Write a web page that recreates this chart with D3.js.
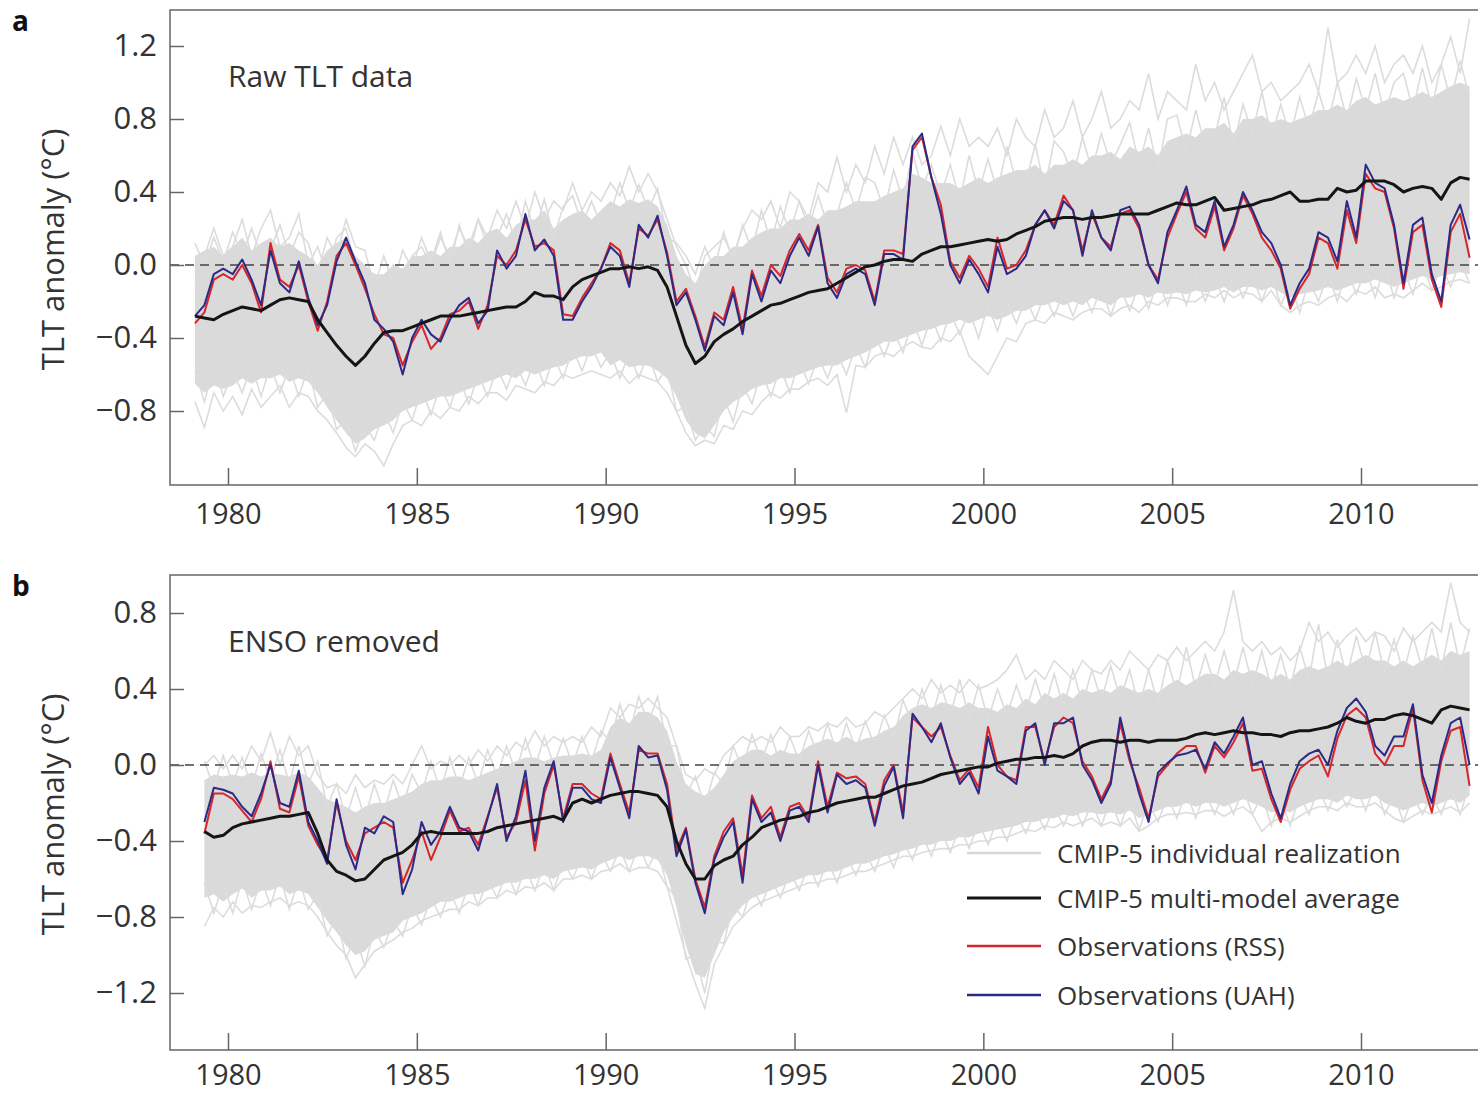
<!DOCTYPE html>
<html>
<head>
<meta charset="utf-8">
<script src="https://cdn.jsdelivr.net/npm/d3@7"></script>
<style>
  body { margin: 0; background: #fff; }
  svg { display: block; font-family: "Open Sans", sans-serif; }
</style>
</head>
<body>
<svg id="chart" width="1478" height="1094"></svg>
<script>
// Quarterly values, one row per year (Q1..Q4), 1979-2012
const years = d3.range(1979, 2013);
const xTicks = [1980, 1985, 1990, 1995, 2000, 2005, 2010];
const yTicksA = [-0.8, -0.4, 0, 0.4, 0.8, 1.2];
const yTicksB = [-1.2, -0.8, -0.4, 0, 0.4, 0.8];
const legendLabels = ['CMIP-5 individual realization', 'CMIP-5 multi-model average', 'Observations (RSS)', 'Observations (UAH)'];

// ---- panel a: raw TLT data ----
const rawUAH = [
  -0.28, -0.22, -0.05, -0.02,
  -0.05, 0.03, -0.08, -0.22,
  0.08, -0.10, -0.15, 0.02,
  -0.18, -0.33, -0.22, 0.02,
  0.15, 0.02, -0.10, -0.30,
  -0.35, -0.42, -0.60, -0.40,
  -0.30, -0.38, -0.42, -0.30,
  -0.22, -0.18, -0.32, -0.25,
  0.08, -0.02, 0.05, 0.28,
  0.08, 0.14, 0.05, -0.30,
  -0.30, -0.20, -0.12, -0.02,
  0.10, 0.05, -0.12, 0.22,
  0.15, 0.27, 0.05, -0.22,
  -0.15, -0.30, -0.47, -0.28,
  -0.33, -0.15, -0.38, -0.05,
  -0.20, -0.03, -0.10, 0.05,
  0.15, 0.05, 0.21, -0.10,
  -0.18, -0.05, -0.02, -0.05,
  -0.22, 0.06, 0.06, 0.03,
  0.65, 0.72, 0.48, 0.28,
  0.00, -0.10, 0.03, -0.05,
  -0.15, 0.10, -0.05, -0.02,
  0.05, 0.22, 0.30, 0.20,
  0.35, 0.30, 0.05, 0.30,
  0.15, 0.08, 0.30, 0.32,
  0.22, 0.00, -0.10, 0.18,
  0.30, 0.43, 0.22, 0.18,
  0.35, 0.10, 0.22, 0.40,
  0.30, 0.18, 0.12, 0.00,
  -0.22, -0.10, -0.02, 0.18,
  0.15, 0.02, 0.35, 0.15,
  0.55, 0.45, 0.42, 0.22,
  -0.10, 0.22, 0.26, -0.05,
  -0.20, 0.22, 0.33, 0.14
];
const rawRSS = [
  -0.32, -0.26, -0.08, -0.05,
  -0.08, 0.00, -0.10, -0.26,
  0.12, -0.08, -0.12, 0.00,
  -0.20, -0.36, -0.20, 0.05,
  0.12, 0.00, -0.13, -0.27,
  -0.38, -0.40, -0.55, -0.42,
  -0.33, -0.46, -0.40, -0.27,
  -0.25, -0.20, -0.35, -0.22,
  0.05, 0.00, 0.08, 0.25,
  0.10, 0.12, 0.08, -0.27,
  -0.28, -0.18, -0.10, -0.02,
  0.12, 0.08, -0.10, 0.20,
  0.16, 0.25, 0.07, -0.20,
  -0.13, -0.28, -0.45, -0.26,
  -0.30, -0.12, -0.35, -0.03,
  -0.17, 0.00, -0.06, 0.08,
  0.17, 0.08, 0.22, -0.07,
  -0.15, -0.02, 0.00, -0.03,
  -0.20, 0.08, 0.08, 0.06,
  0.63, 0.70, 0.48, 0.33,
  0.02, -0.07, 0.05, -0.02,
  -0.12, 0.15, -0.02, 0.00,
  0.08, 0.22, 0.30, 0.22,
  0.38, 0.30, 0.08, 0.28,
  0.15, 0.10, 0.28, 0.30,
  0.20, 0.00, -0.08, 0.15,
  0.28, 0.40, 0.20, 0.15,
  0.32, 0.08, 0.20, 0.38,
  0.28, 0.15, 0.08, -0.02,
  -0.24, -0.13, -0.05, 0.15,
  0.12, -0.02, 0.30, 0.12,
  0.50, 0.42, 0.40, 0.20,
  -0.13, 0.18, 0.22, -0.08,
  -0.23, 0.18, 0.28, 0.04
];
const rawAvg = [
  -0.28, -0.29, -0.30, -0.27,
  -0.25, -0.23, -0.24, -0.25,
  -0.22, -0.19, -0.18, -0.19,
  -0.20, -0.30, -0.37, -0.44,
  -0.50, -0.55, -0.50, -0.43,
  -0.37, -0.36, -0.36, -0.34,
  -0.32, -0.30, -0.28, -0.28,
  -0.28, -0.27, -0.26, -0.25,
  -0.24, -0.23, -0.23, -0.20,
  -0.15, -0.17, -0.17, -0.19,
  -0.12, -0.08, -0.06, -0.04,
  -0.02, -0.02, -0.01, -0.02,
  -0.01, -0.03, -0.12, -0.28,
  -0.44, -0.54, -0.50, -0.42,
  -0.38, -0.35, -0.31, -0.28,
  -0.25, -0.22, -0.21, -0.19,
  -0.17, -0.15, -0.14, -0.13,
  -0.10, -0.07, -0.04, -0.01,
  0.00, 0.02, 0.03, 0.03,
  0.02, 0.06, 0.08, 0.10,
  0.10, 0.11, 0.12, 0.13,
  0.14, 0.13, 0.14, 0.17,
  0.19, 0.21, 0.24, 0.25,
  0.26, 0.26, 0.25, 0.26,
  0.26, 0.27, 0.28, 0.28,
  0.28, 0.28, 0.30, 0.32,
  0.34, 0.33, 0.33, 0.35,
  0.37, 0.30, 0.31, 0.32,
  0.33, 0.35, 0.36, 0.38,
  0.40, 0.35, 0.35, 0.36,
  0.36, 0.42, 0.40, 0.41,
  0.46, 0.46, 0.46, 0.44,
  0.40, 0.42, 0.43, 0.42,
  0.36, 0.45, 0.48, 0.47
];
// dense part of the model spread
const rawBandHi = [
  0.05, 0.08, 0.10, 0.05,
  0.10, 0.15, 0.08, 0.12,
  0.15, 0.10, 0.12, 0.08,
  0.05, 0.00, 0.08, 0.12,
  0.15, 0.05, 0.00, -0.05,
  -0.05, 0.00, -0.02, 0.05,
  0.05, 0.08, 0.05, 0.10,
  0.10, 0.15, 0.12, 0.18,
  0.20, 0.15, 0.22, 0.25,
  0.25, 0.30, 0.20, 0.25,
  0.28, 0.30, 0.25, 0.30,
  0.35, 0.32, 0.36, 0.34,
  0.36, 0.32, 0.22, 0.05,
  -0.05, -0.10, 0.00, 0.05,
  0.05, 0.10, 0.10, 0.15,
  0.18, 0.20, 0.20, 0.25,
  0.25, 0.28, 0.25, 0.30,
  0.30, 0.32, 0.35, 0.35,
  0.35, 0.38, 0.40, 0.42,
  0.50, 0.48, 0.45, 0.45,
  0.45, 0.42, 0.45, 0.48,
  0.45, 0.48, 0.50, 0.52,
  0.52, 0.55, 0.50, 0.55,
  0.55, 0.58, 0.55, 0.60,
  0.60, 0.62, 0.58, 0.65,
  0.62, 0.65, 0.60, 0.68,
  0.70, 0.72, 0.70, 0.75,
  0.75, 0.78, 0.72, 0.80,
  0.80, 0.82, 0.78, 0.80,
  0.78, 0.80, 0.82, 0.85,
  0.85, 0.88, 0.85, 0.90,
  0.92, 0.88, 0.90, 0.92,
  0.90, 0.92, 0.95, 0.92,
  0.95, 0.98, 1.00, 0.98
];
const rawBandLo = [
  -0.65, -0.70, -0.66, -0.68,
  -0.66, -0.62, -0.65, -0.62,
  -0.62, -0.60, -0.64, -0.62,
  -0.64, -0.70, -0.78, -0.85,
  -0.92, -0.98, -0.95, -0.90,
  -0.88, -0.85, -0.80, -0.78,
  -0.76, -0.74, -0.72, -0.72,
  -0.70, -0.68, -0.66, -0.64,
  -0.62, -0.60, -0.62, -0.58,
  -0.60, -0.58, -0.56, -0.55,
  -0.52, -0.50, -0.50, -0.48,
  -0.55, -0.52, -0.56, -0.55,
  -0.55, -0.58, -0.62, -0.72,
  -0.85, -0.92, -0.95, -0.88,
  -0.80, -0.75, -0.72, -0.68,
  -0.66, -0.65, -0.62, -0.62,
  -0.60, -0.58, -0.56, -0.55,
  -0.55, -0.52, -0.50, -0.48,
  -0.45, -0.42, -0.42, -0.40,
  -0.38, -0.36, -0.35, -0.33,
  -0.32, -0.30, -0.32, -0.30,
  -0.28, -0.30, -0.28, -0.25,
  -0.25, -0.22, -0.22, -0.20,
  -0.22, -0.20, -0.22, -0.18,
  -0.20, -0.22, -0.18, -0.18,
  -0.16, -0.18, -0.15, -0.16,
  -0.15, -0.16, -0.14, -0.15,
  -0.14, -0.12, -0.15, -0.12,
  -0.12, -0.14, -0.12, -0.15,
  -0.18, -0.16, -0.15, -0.14,
  -0.12, -0.14, -0.12, -0.10,
  -0.10, -0.08, -0.10, -0.12,
  -0.10, -0.08, -0.06, -0.08,
  -0.06, -0.05, -0.04, -0.05
];
// individual realizations that stick out of the dense spread
const rawRunHigh = [
  -0.10, 0.05, 0.20, 0.05,
  0.10, 0.25, 0.05, 0.20,
  0.30, 0.10, 0.15, 0.28,
  0.00, 0.10, -0.05, 0.15,
  0.20, 0.00, -0.10, -0.05,
  -0.15, 0.00, -0.10, 0.05,
  0.10, 0.00, 0.15, 0.05,
  0.20, 0.10, 0.25, 0.15,
  0.30, 0.20, 0.35, 0.20,
  0.40, 0.25, 0.35, 0.30,
  0.45, 0.30, 0.40, 0.35,
  0.45, 0.38, 0.54, 0.40,
  0.50, 0.40, 0.25, 0.10,
  0.00, -0.15, 0.05, 0.10,
  0.15, 0.05, 0.20, 0.30,
  0.25, 0.35, 0.20, 0.40,
  0.35, 0.25, 0.45, 0.40,
  0.59, 0.40, 0.55, 0.45,
  0.65, 0.50, 0.70, 0.55,
  0.70, 0.55, 0.60, 0.76,
  0.60, 0.80, 0.65, 0.70,
  0.65, 0.75, 0.60, 0.80,
  0.70, 0.65, 0.85, 0.70,
  0.75, 0.90, 0.70, 0.80,
  0.95, 0.75, 0.80, 0.90,
  0.85, 1.05, 0.80, 0.95,
  0.90, 0.85, 1.10, 0.90,
  1.00, 0.85, 0.95, 1.05,
  1.15, 0.95, 1.00, 0.90,
  0.95, 1.00, 1.10, 0.95,
  1.30, 1.00, 1.05, 1.15,
  1.05, 1.20, 1.00, 1.10,
  1.15, 1.05, 1.20, 1.00,
  1.10, 1.25, 1.05, 1.35
];
const rawRunMidHi = [
  0.12, 0.00, 0.15, 0.02,
  0.18, 0.05, 0.20, 0.05,
  0.08, 0.22, 0.05, 0.18,
  0.12, -0.05, 0.15, 0.05,
  0.25, 0.10, 0.08, -0.12,
  0.05, -0.10, 0.08, -0.02,
  0.15, 0.02, 0.18, 0.00,
  0.22, 0.05, 0.25, 0.10,
  0.15, 0.28, 0.12, 0.35,
  0.18, 0.36, 0.15, 0.32,
  0.38, 0.22, 0.35, 0.22,
  0.28, 0.45, 0.30, 0.44,
  0.30, 0.42, 0.15, 0.12,
  0.05, -0.05, 0.10, -0.02,
  0.18, 0.02, 0.22, 0.08,
  0.30, 0.12, 0.32, 0.18,
  0.35, 0.20, 0.38, 0.22,
  0.28, 0.45, 0.30, 0.48,
  0.45, 0.30, 0.52, 0.35,
  0.62, 0.42, 0.55, 0.38,
  0.55, 0.35, 0.60, 0.40,
  0.58, 0.40, 0.65, 0.45,
  0.45, 0.66, 0.42, 0.68,
  0.62, 0.48, 0.70, 0.52,
  0.72, 0.55, 0.66, 0.78,
  0.55, 0.75, 0.52, 0.80,
  0.82, 0.62, 0.85, 0.65,
  0.70, 0.92, 0.65, 0.88,
  0.72, 0.95, 0.70, 0.88,
  0.70, 0.92, 0.75, 0.95,
  0.78, 1.00, 0.80, 1.02,
  0.85, 1.05, 0.82, 1.00,
  1.05, 0.85, 1.08, 0.86,
  1.10, 0.90, 1.12, 0.92
];
const rawRunMidLo = [
  -0.58, -0.75, -0.55, -0.72,
  -0.58, -0.70, -0.55, -0.72,
  -0.55, -0.70, -0.56, -0.72,
  -0.56, -0.78, -0.70, -0.90,
  -0.85, -1.02, -0.88, -0.96,
  -0.80, -0.92, -0.75, -0.85,
  -0.68, -0.82, -0.66, -0.78,
  -0.62, -0.76, -0.60, -0.72,
  -0.56, -0.68, -0.54, -0.66,
  -0.52, -0.66, -0.50, -0.62,
  -0.46, -0.58, -0.44, -0.56,
  -0.48, -0.62, -0.48, -0.62,
  -0.48, -0.64, -0.56, -0.80,
  -0.78, -0.96, -0.88, -0.94,
  -0.72, -0.86, -0.66, -0.76,
  -0.58, -0.72, -0.56, -0.70,
  -0.52, -0.65, -0.50, -0.62,
  -0.48, -0.60, -0.44, -0.56,
  -0.38, -0.50, -0.36, -0.48,
  -0.30, -0.44, -0.28, -0.42,
  -0.26, -0.38, -0.25, -0.40,
  -0.22, -0.36, -0.20, -0.32,
  -0.18, -0.30, -0.16, -0.28,
  -0.15, -0.28, -0.14, -0.26,
  -0.12, -0.28, -0.12, -0.25,
  -0.10, -0.24, -0.08, -0.22,
  -0.08, -0.22, -0.06, -0.20,
  -0.06, -0.20, -0.05, -0.18,
  -0.06, -0.20, -0.05, -0.22,
  -0.10, -0.26, -0.08, -0.20,
  -0.04, -0.20, -0.02, -0.16,
  -0.02, -0.18, 0.00, -0.18,
  -0.02, -0.16, 0.02, -0.14,
  0.00, -0.12, 0.02, -0.10
];
const rawRunLow = [
  -0.75, -0.89, -0.70, -0.80,
  -0.72, -0.82, -0.68, -0.78,
  -0.72, -0.66, -0.78, -0.70,
  -0.72, -0.80, -0.85, -0.92,
  -1.00, -1.05, -0.98, -1.02,
  -1.10, -0.98, -0.88, -0.85,
  -0.88, -0.80, -0.84, -0.78,
  -0.80, -0.72, -0.76, -0.70,
  -0.70, -0.74, -0.66, -0.68,
  -0.70, -0.64, -0.66, -0.60,
  -0.62, -0.60, -0.58, -0.60,
  -0.62, -0.58, -0.65, -0.60,
  -0.62, -0.64, -0.70, -0.80,
  -0.92, -0.99, -0.96, -0.98,
  -0.88, -0.90, -0.80, -0.82,
  -0.75, -0.70, -0.73, -0.68,
  -0.68, -0.64, -0.62, -0.66,
  -0.60, -0.81, -0.55, -0.56,
  -0.50, -0.48, -0.50, -0.45,
  -0.42, -0.45, -0.46, -0.40,
  -0.42, -0.36, -0.50, -0.55,
  -0.60, -0.50, -0.40, -0.42,
  -0.32, -0.30, -0.32, -0.26,
  -0.28, -0.30, -0.26, -0.24,
  -0.24, -0.28, -0.24, -0.22,
  -0.26, -0.20, -0.22, -0.18,
  -0.18, -0.20, -0.20, -0.16,
  -0.18, -0.14, -0.18, -0.15,
  -0.16, -0.20, -0.14, -0.22,
  -0.26, -0.22, -0.20, -0.22,
  -0.18, -0.16, -0.20, -0.14,
  -0.16, -0.12, -0.18, -0.16,
  -0.18, -0.14, -0.10, -0.14,
  -0.12, -0.09, -0.08, -0.10
];

// ---- panel b: ENSO removed ----
const noEnsoUAH = [
  null, -0.30, -0.12, -0.13,
  -0.15, -0.22, -0.27, -0.15,
  0.00, -0.20, -0.22, -0.03,
  -0.30, -0.40, -0.52, -0.18,
  -0.42, -0.55, -0.33, -0.36,
  -0.27, -0.30, -0.68, -0.55,
  -0.30, -0.42, -0.35, -0.22,
  -0.33, -0.35, -0.45, -0.28,
  -0.10, -0.40, -0.27, -0.03,
  -0.40, -0.12, 0.02, -0.30,
  -0.12, -0.12, -0.18, -0.20,
  0.04, -0.12, -0.28, 0.10,
  0.04, 0.05, -0.13, -0.48,
  -0.34, -0.62, -0.78, -0.50,
  -0.38, -0.30, -0.62, -0.18,
  -0.30, -0.25, -0.40, -0.24,
  -0.22, -0.30, 0.00, -0.25,
  -0.05, -0.10, -0.08, -0.12,
  -0.32, -0.11, -0.01, -0.28,
  0.27, 0.20, 0.12, 0.22,
  0.04, -0.10, -0.04, -0.15,
  0.15, -0.03, -0.06, -0.10,
  0.18, 0.22, 0.00, 0.22,
  0.22, 0.25, 0.00, -0.08,
  -0.20, -0.10, 0.25, 0.04,
  -0.15, -0.30, -0.04, 0.01,
  0.05, 0.06, 0.08, -0.02,
  0.12, 0.06, 0.15, 0.25,
  0.00, 0.02, -0.15, -0.28,
  -0.10, 0.02, 0.06, 0.08,
  0.00, 0.18, 0.30, 0.35,
  0.28, 0.10, 0.05, 0.15,
  0.15, 0.32, -0.05, -0.20,
  0.05, 0.22, 0.25, 0.00
];
const noEnsoRSS = [
  null, -0.36, -0.15, -0.15,
  -0.18, -0.24, -0.30, -0.18,
  0.02, -0.23, -0.25, -0.06,
  -0.32, -0.42, -0.50, -0.20,
  -0.40, -0.50, -0.36, -0.33,
  -0.30, -0.33, -0.62, -0.50,
  -0.35, -0.50, -0.38, -0.24,
  -0.35, -0.33, -0.42, -0.27,
  -0.12, -0.38, -0.30, -0.08,
  -0.45, -0.15, 0.00, -0.28,
  -0.10, -0.10, -0.15, -0.18,
  0.06, -0.10, -0.25, 0.08,
  0.06, 0.06, -0.10, -0.45,
  -0.33, -0.60, -0.75, -0.48,
  -0.35, -0.28, -0.58, -0.16,
  -0.28, -0.22, -0.38, -0.22,
  -0.20, -0.28, 0.02, -0.22,
  -0.04, -0.07, -0.06, -0.10,
  -0.30, -0.08, 0.00, -0.25,
  0.25, 0.20, 0.15, 0.20,
  0.05, -0.08, -0.02, -0.12,
  0.20, 0.00, -0.06, -0.08,
  0.20, 0.20, 0.02, 0.20,
  0.25, 0.22, 0.02, -0.06,
  -0.18, -0.08, 0.22, 0.02,
  -0.12, -0.28, -0.06, 0.00,
  0.06, 0.10, 0.10, -0.04,
  0.10, 0.04, 0.12, 0.22,
  -0.03, -0.02, -0.18, -0.30,
  -0.13, -0.02, 0.02, 0.05,
  -0.06, 0.14, 0.26, 0.30,
  0.25, 0.06, 0.00, 0.10,
  0.10, 0.30, -0.08, -0.25,
  0.02, 0.18, 0.20, -0.11
];
const noEnsoAvg = [
  null, -0.35, -0.38, -0.37,
  -0.33, -0.31, -0.30, -0.29,
  -0.28, -0.27, -0.27, -0.26,
  -0.25, -0.36, -0.50, -0.56,
  -0.58, -0.61, -0.60, -0.55,
  -0.50, -0.48, -0.46, -0.42,
  -0.36, -0.35, -0.36, -0.36,
  -0.36, -0.36, -0.36, -0.35,
  -0.33, -0.32, -0.31, -0.30,
  -0.29, -0.28, -0.27, -0.29,
  -0.20, -0.18, -0.20, -0.18,
  -0.16, -0.15, -0.14, -0.14,
  -0.15, -0.16, -0.22, -0.40,
  -0.52, -0.60, -0.60, -0.53,
  -0.50, -0.48, -0.42, -0.38,
  -0.33, -0.31, -0.29, -0.28,
  -0.27, -0.25, -0.24, -0.22,
  -0.20, -0.19, -0.18, -0.17,
  -0.17, -0.15, -0.13, -0.11,
  -0.10, -0.09, -0.07, -0.05,
  -0.04, -0.03, -0.02, -0.01,
  -0.01, 0.01, 0.02, 0.03,
  0.03, 0.04, 0.04, 0.05,
  0.04, 0.06, 0.10, 0.12,
  0.13, 0.13, 0.12, 0.13,
  0.13, 0.12, 0.13, 0.13,
  0.13, 0.14, 0.16, 0.17,
  0.16, 0.17, 0.18, 0.17,
  0.17, 0.16, 0.16, 0.15,
  0.17, 0.18, 0.18, 0.19,
  0.20, 0.22, 0.25, 0.23,
  0.22, 0.24, 0.24, 0.26,
  0.27, 0.26, 0.24, 0.22,
  0.29, 0.31, 0.30, 0.29
];
const noEnsoBandHi = [
  null, -0.08, -0.05, -0.06,
  -0.05, -0.06, -0.04, -0.06,
  -0.04, -0.05, -0.06, -0.04,
  -0.06, -0.12, -0.18, -0.20,
  -0.22, -0.25, -0.22, -0.20,
  -0.20, -0.18, -0.16, -0.14,
  -0.10, -0.08, -0.08, -0.06,
  -0.06, -0.08, -0.06, -0.04,
  -0.02, 0.00, 0.02, 0.04,
  0.04, 0.02, 0.04, 0.05,
  0.05, 0.06, 0.05, 0.08,
  0.20, 0.25, 0.22, 0.28,
  0.28, 0.25, 0.18, 0.02,
  -0.10, -0.14, -0.16, -0.12,
  -0.05, 0.02, 0.05, 0.08,
  0.08, 0.05, 0.08, 0.06,
  0.06, 0.10, 0.12, 0.14,
  0.12, 0.15, 0.12, 0.14,
  0.15, 0.18, 0.20, 0.26,
  0.30, 0.32, 0.30, 0.33,
  0.32, 0.30, 0.33, 0.30,
  0.30, 0.28, 0.32, 0.30,
  0.35, 0.32, 0.38, 0.35,
  0.38, 0.35, 0.40, 0.38,
  0.40, 0.38, 0.42, 0.40,
  0.38, 0.40, 0.38, 0.42,
  0.45, 0.42, 0.45, 0.48,
  0.48, 0.45, 0.50, 0.48,
  0.50, 0.48, 0.45, 0.48,
  0.45, 0.50, 0.52, 0.50,
  0.52, 0.55, 0.52, 0.55,
  0.58, 0.55, 0.55, 0.52,
  0.55, 0.52, 0.55, 0.58,
  0.55, 0.60, 0.58, 0.60
];
const noEnsoBandLo = [
  null, -0.70, -0.68, -0.72,
  -0.68, -0.65, -0.70, -0.66,
  -0.66, -0.64, -0.68, -0.66,
  -0.68, -0.75, -0.82, -0.88,
  -0.95, -1.00, -0.98, -0.92,
  -0.90, -0.88, -0.82, -0.80,
  -0.78, -0.75, -0.72, -0.72,
  -0.70, -0.68, -0.68, -0.66,
  -0.64, -0.62, -0.62, -0.60,
  -0.60, -0.58, -0.60, -0.56,
  -0.55, -0.54, -0.55, -0.52,
  -0.50, -0.48, -0.50, -0.48,
  -0.48, -0.50, -0.58, -0.75,
  -0.95, -1.10, -1.12, -1.00,
  -0.88, -0.80, -0.74, -0.70,
  -0.68, -0.66, -0.64, -0.62,
  -0.60, -0.58, -0.58, -0.56,
  -0.56, -0.54, -0.52, -0.52,
  -0.50, -0.48, -0.47, -0.45,
  -0.44, -0.42, -0.42, -0.40,
  -0.40, -0.38, -0.38, -0.36,
  -0.35, -0.34, -0.33, -0.32,
  -0.30, -0.30, -0.28, -0.28,
  -0.26, -0.27, -0.25, -0.25,
  -0.26, -0.25, -0.26, -0.24,
  -0.28, -0.26, -0.24, -0.22,
  -0.22, -0.20, -0.22, -0.20,
  -0.20, -0.22, -0.20, -0.18,
  -0.20, -0.22, -0.25, -0.24,
  -0.25, -0.22, -0.20, -0.18,
  -0.18, -0.20, -0.16, -0.18,
  -0.18, -0.16, -0.20, -0.22,
  -0.24, -0.22, -0.20, -0.22,
  -0.20, -0.18, -0.20, -0.16
];
const noEnsoRunHigh = [
  null, 0.00, 0.05, -0.02,
  0.05, -0.02, 0.10, 0.02,
  0.17, 0.00, 0.15, 0.05,
  0.10, -0.05, -0.12, -0.10,
  -0.15, -0.05, -0.12, -0.08,
  -0.10, -0.05, -0.10, 0.00,
  0.10, -0.02, 0.02, 0.00,
  0.05, 0.00, 0.08, 0.02,
  0.10, 0.05, 0.12, 0.08,
  0.18, 0.10, 0.15, 0.12,
  0.15, 0.12, 0.20, 0.15,
  0.30, 0.25, 0.32, 0.30,
  0.35, 0.30, 0.25, 0.10,
  -0.05, -0.08, -0.02, -0.05,
  0.05, 0.10, 0.15, 0.12,
  0.15, 0.12, 0.20, 0.15,
  0.15, 0.20, 0.18, 0.22,
  0.20, 0.25, 0.20, 0.22,
  0.28, 0.25, 0.30, 0.35,
  0.40, 0.35, 0.45, 0.38,
  0.42, 0.38, 0.45, 0.40,
  0.42, 0.45, 0.50, 0.58,
  0.45, 0.50, 0.45, 0.55,
  0.50, 0.45, 0.55, 0.50,
  0.48, 0.55, 0.50, 0.60,
  0.55, 0.50, 0.58, 0.55,
  0.62, 0.55, 0.60, 0.65,
  0.60, 0.70, 0.92, 0.65,
  0.60, 0.65, 0.58, 0.62,
  0.55, 0.60, 0.75, 0.65,
  0.70, 0.62, 0.68, 0.72,
  0.65, 0.70, 0.68, 0.60,
  0.72, 0.65, 0.70, 0.75,
  0.70, 0.96, 0.75, 0.70
];
const noEnsoRunMidHi = [
  null, 0.02, -0.12, 0.05,
  -0.10, 0.04, -0.12, 0.06,
  -0.08, 0.08, -0.10, 0.10,
  -0.10, 0.02, -0.22, -0.10,
  -0.28, -0.12, -0.28, -0.10,
  -0.25, -0.08, -0.22, -0.05,
  -0.15, 0.02, -0.14, 0.04,
  -0.12, 0.04, -0.10, 0.08,
  -0.06, 0.10, -0.04, 0.14,
  -0.02, 0.15, 0.00, 0.14,
  0.00, 0.15, 0.02, 0.18,
  0.12, 0.32, 0.16, 0.36,
  0.22, 0.36, 0.10, 0.10,
  -0.16, -0.06, -0.22, -0.04,
  -0.10, 0.10, -0.02, 0.16,
  0.02, 0.16, 0.00, 0.15,
  0.02, 0.18, 0.05, 0.22,
  0.06, 0.22, 0.08, 0.23,
  0.10, 0.26, 0.14, 0.34,
  0.22, 0.40, 0.24, 0.42,
  0.26, 0.45, 0.24, 0.42,
  0.24, 0.40, 0.26, 0.42,
  0.28, 0.45, 0.30, 0.48,
  0.30, 0.50, 0.32, 0.50,
  0.34, 0.52, 0.35, 0.50,
  0.30, 0.50, 0.32, 0.55,
  0.38, 0.62, 0.40, 0.58,
  0.42, 0.60, 0.42, 0.62,
  0.42, 0.60, 0.40, 0.58,
  0.40, 0.62, 0.45, 0.74,
  0.45, 0.66, 0.46, 0.68,
  0.50, 0.70, 0.48, 0.66,
  0.48, 0.68, 0.50, 0.72,
  0.50, 0.75, 0.52, 0.72
];
const noEnsoRunMidLo = [
  null, -0.62, -0.78, -0.62,
  -0.78, -0.60, -0.76, -0.60,
  -0.74, -0.58, -0.76, -0.60,
  -0.76, -0.68, -0.90, -0.80,
  -1.02, -0.90, -1.06, -0.86,
  -0.96, -0.82, -0.90, -0.74,
  -0.84, -0.70, -0.80, -0.66,
  -0.78, -0.62, -0.74, -0.60,
  -0.70, -0.56, -0.68, -0.54,
  -0.66, -0.52, -0.66, -0.50,
  -0.60, -0.48, -0.60, -0.46,
  -0.56, -0.44, -0.56, -0.42,
  -0.54, -0.44, -0.64, -0.70,
  -1.02, -1.00, -1.20, -0.92,
  -0.94, -0.74, -0.80, -0.64,
  -0.74, -0.60, -0.70, -0.56,
  -0.66, -0.52, -0.64, -0.50,
  -0.62, -0.48, -0.58, -0.46,
  -0.56, -0.42, -0.54, -0.40,
  -0.50, -0.36, -0.48, -0.34,
  -0.46, -0.32, -0.44, -0.30,
  -0.42, -0.28, -0.40, -0.26,
  -0.36, -0.24, -0.34, -0.22,
  -0.32, -0.20, -0.32, -0.20,
  -0.32, -0.18, -0.32, -0.18,
  -0.34, -0.20, -0.30, -0.16,
  -0.28, -0.14, -0.28, -0.14,
  -0.26, -0.14, -0.26, -0.12,
  -0.26, -0.16, -0.32, -0.18,
  -0.32, -0.16, -0.26, -0.12,
  -0.24, -0.12, -0.22, -0.12,
  -0.24, -0.10, -0.26, -0.16,
  -0.30, -0.16, -0.26, -0.16,
  -0.26, -0.12, -0.26, -0.10
];
const noEnsoRunLow = [
  null, -0.85, -0.75, -0.80,
  -0.72, -0.78, -0.74, -0.75,
  -0.72, -0.70, -0.74, -0.72,
  -0.74, -0.80, -0.88, -0.95,
  -1.00, -1.12, -1.05, -0.98,
  -0.95, -0.92, -0.88, -0.86,
  -0.82, -0.80, -0.78, -0.76,
  -0.76, -0.72, -0.74, -0.70,
  -0.70, -0.66, -0.68, -0.64,
  -0.65, -0.62, -0.66, -0.60,
  -0.60, -0.58, -0.60, -0.56,
  -0.55, -0.52, -0.56, -0.54,
  -0.54, -0.56, -0.64, -0.82,
  -1.00, -1.15, -1.28, -1.05,
  -0.95, -0.85, -0.80, -0.75,
  -0.72, -0.70, -0.68, -0.66,
  -0.64, -0.62, -0.62, -0.60,
  -0.60, -0.58, -0.56, -0.56,
  -0.54, -0.52, -0.50, -0.48,
  -0.48, -0.46, -0.45, -0.44,
  -0.44, -0.42, -0.42, -0.40,
  -0.40, -0.38, -0.38, -0.36,
  -0.34, -0.35, -0.32, -0.33,
  -0.30, -0.32, -0.30, -0.28,
  -0.32, -0.30, -0.32, -0.28,
  -0.35, -0.32, -0.28, -0.26,
  -0.26, -0.25, -0.26, -0.24,
  -0.24, -0.27, -0.24, -0.22,
  -0.26, -0.35, -0.30, -0.28,
  -0.30, -0.27, -0.24, -0.22,
  -0.22, -0.24, -0.20, -0.22,
  -0.22, -0.20, -0.24, -0.28,
  -0.30, -0.27, -0.24, -0.26,
  -0.24, -0.22, -0.25, -0.20
];

const colors = { band: '#dadada', run: '#dcdcdc', avg: '#151515', rss: '#d7262b', uah: '#2c2a86', axis: '#666', text: '#333' };

const panels = [
  { letter: 'a', title: 'Raw TLT data', top: 10, bottom: 485, yDomain: [-0.8, 1.2], yRange: [411, 46], yTicks: yTicksA, xPad: 18,
    bandLo: rawBandLo, bandHi: rawBandHi, runs: [rawRunHigh, rawRunMidHi, rawRunMidLo, rawRunLow],
    avg: rawAvg, rss: rawRSS, uah: rawUAH, legend: false },
  { letter: 'b', title: 'ENSO removed', top: 575, bottom: 1050, yDomain: [-1.2, 0.8], yRange: [993, 613], yTicks: yTicksB, xPad: 14,
    bandLo: noEnsoBandLo, bandHi: noEnsoBandHi, runs: [noEnsoRunHigh, noEnsoRunMidHi, noEnsoRunMidLo, noEnsoRunLow],
    avg: noEnsoAvg, rss: noEnsoRSS, uah: noEnsoUAH, legend: true }
];

const svg = d3.select('#chart');
const left = 170, right = 1490;
const x = d3.scaleLinear().domain([1980, 2010]).range([228, 1361]);

// time of each quarterly value
const quarterTime = i => years[Math.floor(i / 4)] + (i % 4 + 0.5) / 4;
const toPoints = vals => vals.map((v, i) => ({ t: quarterTime(i), v }));

panels.forEach(p => {
  const y = d3.scaleLinear().domain(p.yDomain).range(p.yRange);
  const g = svg.append('g');

  const clipId = 'clip-' + p.letter;
  svg.append('clipPath').attr('id', clipId)
    .append('rect').attr('x', left).attr('y', p.top).attr('width', right - left).attr('height', p.bottom - p.top);
  const plot = g.append('g').attr('clip-path', `url(#${clipId})`);

  const line = d3.line().defined(d => d.v != null).x(d => x(d.t)).y(d => y(d.v));

  // model spread
  const band = p.bandLo.map((lo, i) => ({ t: quarterTime(i), lo, hi: p.bandHi[i] }));
  plot.append('path')
    .datum(band)
    .attr('fill', colors.band)
    .attr('d', d3.area().defined(d => d.lo != null).x(d => x(d.t)).y0(d => y(d.lo)).y1(d => y(d.hi)));

  p.runs.forEach(run => {
    plot.append('path')
      .datum(toPoints(run))
      .attr('fill', 'none')
      .attr('stroke', colors.run)
      .attr('stroke-width', 1.6)
      .attr('d', line);
  });

  // zero line
  plot.append('line')
    .attr('x1', left).attr('x2', right)
    .attr('y1', y(0)).attr('y2', y(0))
    .attr('stroke', '#444').attr('stroke-width', 1.5).attr('stroke-dasharray', '9,6');

  // observations, then the model average on top
  [[p.rss, colors.rss, 2], [p.uah, colors.uah, 2], [p.avg, colors.avg, 3]].forEach(([vals, col, w]) => {
    plot.append('path')
      .datum(toPoints(vals))
      .attr('fill', 'none')
      .attr('stroke', col)
      .attr('stroke-width', w)
      .attr('stroke-linejoin', 'round')
      .attr('d', line);
  });

  // frame
  g.append('path')
    .attr('d', `M${right},${p.top}H${left}V${p.bottom}H${right}`)
    .attr('fill', 'none').attr('stroke', colors.axis).attr('stroke-width', 1.5);

  // axes, ticks pointing inward
  const yAxis = g.append('g')
    .attr('transform', `translate(${left},0)`)
    .call(d3.axisLeft(y).tickValues(p.yTicks).tickFormat(d3.format('.1f')).tickSizeInner(-14).tickSizeOuter(0).tickPadding(13));
  const xAxis = g.append('g')
    .attr('transform', `translate(0,${p.bottom})`)
    .call(d3.axisBottom(x).tickValues(xTicks).tickFormat(d3.format('d')).tickSizeInner(-17).tickSizeOuter(0).tickPadding(p.xPad));

  [yAxis, xAxis].forEach(a => {
    a.attr('font-family', null).attr('font-size', null);
    a.select('.domain').remove();
    a.selectAll('line').attr('stroke', colors.axis).attr('stroke-width', 1.5);
  });
  yAxis.selectAll('text').attr('font-size', 31).attr('fill', colors.text);
  xAxis.selectAll('text').attr('font-size', 29).attr('fill', colors.text);

  // y title
  const midY = (p.top + p.bottom) / 2 + 2;
  g.append('text')
    .attr('transform', `translate(52,${midY}) rotate(-90)`)
    .attr('text-anchor', 'middle')
    .attr('dominant-baseline', 'central')
    .attr('font-size', 31)
    .attr('fill', colors.text)
    .text('TLT anomaly (°C)');

  // panel letter and title
  g.append('text')
    .attr('x', 12).attr('y', p.top + 21)
    .attr('font-size', 28).attr('font-weight', 700).attr('fill', '#111')
    .text(p.letter);
  g.append('text')
    .attr('x', 228).attr('y', p.top + 77)
    .attr('font-size', 30).attr('fill', colors.text)
    .text(p.title);

  if (p.legend) {
    const items = [
      { label: legendLabels[0], color: '#d8d8d8', width: 2.5 },
      { label: legendLabels[1], color: colors.avg, width: 3 },
      { label: legendLabels[2], color: colors.rss, width: 2.5 },
      { label: legendLabels[3], color: colors.uah, width: 2.5 }
    ];
    const rowY = [853, 898, 946, 995];
    const lg = g.append('g');
    items.forEach((it, i) => {
      lg.append('line')
        .attr('x1', 967).attr('x2', 1041)
        .attr('y1', rowY[i]).attr('y2', rowY[i])
        .attr('stroke', it.color).attr('stroke-width', it.width);
      lg.append('text')
        .attr('x', 1057).attr('y', rowY[i])
        .attr('dominant-baseline', 'central')
        .attr('font-size', 26).attr('fill', colors.text)
        .text(it.label);
    });
  }
});
</script>
</body>
</html>
